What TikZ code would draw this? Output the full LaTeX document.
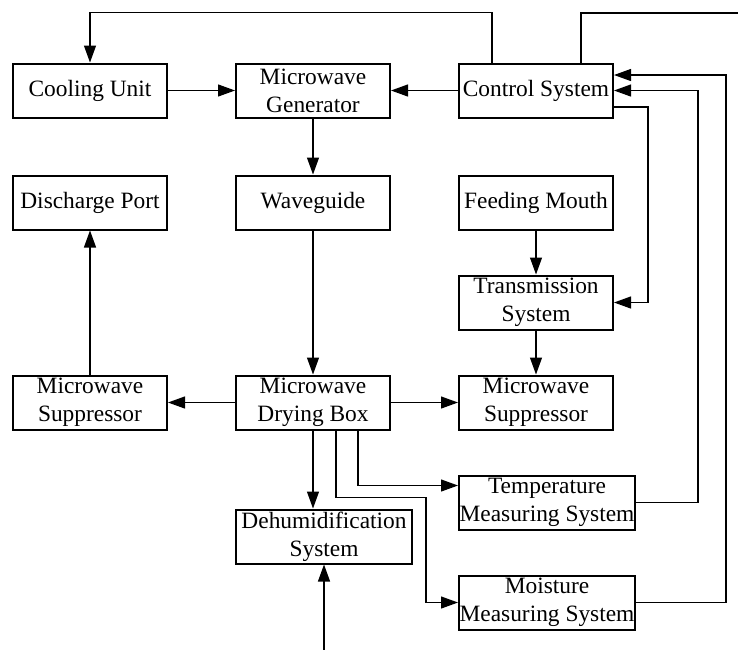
\documentclass[tikz,border=0pt]{standalone}
\usepackage{fontspec}
\setmainfont{Liberation Serif}
\usetikzlibrary{arrows.meta, positioning}

\begin{document}
\begin{tikzpicture}[
    node distance=33.5pt,
    unitbox/.style={rectangle, draw=black, line width=1pt, minimum width=77pt, minimum height=27pt, inner sep=1pt, align=center, font=\fontsize{11.7}{14}\selectfont},
    widebox/.style={unitbox, minimum width=88pt, inner xsep=0pt},
    arrow/.style={-{Triangle[length=8.5pt, width=6pt]}, line width=0.6pt},
    wire/.style={line width=0.6pt}
]
\useasboundingbox (0,0) rectangle (369pt,-324.5pt);

% Top row
\node[unitbox] (cool) at (45pt,-45.25pt) {Cooling Unit};
\node[unitbox, right=of cool] (gen) {Microwave\\Generator};
\node[unitbox, right=of gen] (ctrl) {Control System};

% Second row
\node[unitbox, below=28pt of cool] (disch) {Discharge Port};
\node[unitbox, below=28pt of gen] (wave) {Waveguide};
\node[unitbox, below=28pt of ctrl] (feed) {Feeding Mouth};
\node[unitbox, below=22pt of feed] (trans) {Transmission\\System};

% Drying row
\node[unitbox, below=22pt of trans] (supR) {Microwave\\Suppressor};
\node[unitbox, left=of supR] (dry) {Microwave\\Drying Box};
\node[unitbox, left=of dry] (supL) {Microwave\\Suppressor};

% Measuring and dehumidification
\node[widebox, below=22pt of supR.south west, anchor=north west] (temp) {Temperature\\Measuring System};
\node[widebox, below=22pt of temp.south west, anchor=north west] (moist) {Moisture\\Measuring System};
\node[widebox, below=39pt of dry.south west, anchor=north west] (dehum) {Dehumidification\\System};

\draw[arrow] (cool) -- (gen);
\draw[arrow] (ctrl) -- (gen);
\draw[arrow] (gen) -- (wave);
\draw[arrow] (wave) -- (dry);
\draw[arrow] (dry) -- (supL);
\draw[arrow] (dry) -- (supR);
\draw[arrow] (supL) -- (disch);
\draw[arrow] (feed) -- (trans);
\draw[arrow] (trans) -- (supR);

% Control lines
\draw[arrow] ([xshift=-22pt]ctrl.north) -- ++(0,25pt) -| (cool.north);
\coordinate (exit) at (369pt,-6.5pt);
\draw[wire] ([xshift=22.5pt]ctrl.north) |- (exit);
\draw[arrow] ([yshift=-8.25pt]ctrl.east) -- ++(17pt,0) |- (trans.east);

% Feedback
\draw[arrow] (temp.east) -- ++(31pt,0) |- (ctrl.east);
\draw[arrow] (moist.east) -- ++(45pt,0) |- ([yshift=7.75pt]ctrl.east);

% Drying box outputs
\draw[arrow] (dry.south) -- (dry.south |- dehum.north);
\draw[arrow] ([xshift=22.5pt]dry.south) |- ([yshift=8.5pt]temp.west);
\draw[arrow] ([xshift=11.5pt]dry.south) -- ++(0,-33.5pt) -| ([xshift=-16pt]moist.west) -- (moist.west);

\coordinate (inlet) at ([yshift=-43pt]dehum.south);
\draw[arrow] (inlet) -- (dehum.south);

\end{tikzpicture}
\end{document}
